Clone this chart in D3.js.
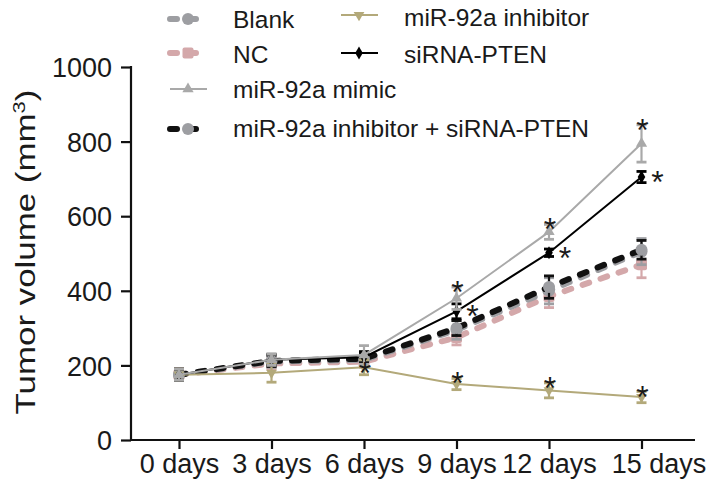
<!DOCTYPE html>
<html><head><meta charset="utf-8">
<script src="https://cdn.jsdelivr.net/npm/d3@7"></script>
<style>body{margin:0;background:#fff}svg{display:block}text{font-family:"Liberation Sans",Arial,sans-serif;fill:#1a1a1a}</style>
</head><body><svg id="c" width="709" height="490"></svg>
<script>
const days = ["0 days","3 days","6 days","9 days","12 days","15 days"];
const yTicks = [0,200,400,600,800,1000];
const blank = [175,210,215,295,400,505];
const blankErr = [15,15,15,25,35,35];
const nc = [175,205,210,275,385,470];
const ncErr = [15,15,15,20,30,35];
const mimic = [175,215,228,380,558,795];
const mimicErr = [15,15,25,30,20,50];
const inhibitor = [175,180,195,150,133,115];
const inhibitorErr = [15,25,20,15,20,15];
const sirna = [175,215,222,345,502,705];
const sirnaErr = [15,15,15,20,10,15];
const combo = [175,212,218,300,410,510];
const comboErr = [15,15,15,20,30,25];
const stars = [
  {s:"inhibitor",i:2},{s:"inhibitor",i:3},{s:"inhibitor",i:4},{s:"inhibitor",i:5},
  {s:"mimic",i:3},{s:"mimic",i:4},{s:"mimic",i:5},
  {s:"sirna",i:3},{s:"sirna",i:4},{s:"sirna",i:5}
];

const svg = d3.select("#c");
const x = d3.scalePoint().domain(days).range([179,641.5]);
const y = d3.scaleLinear().domain([0,1000]).range([440,67]);
const FONT = "Liberation Sans, Arial, sans-serif";

const series = [
  {key:"nc",name:"NC",v:nc,e:ncErr,color:"#d4a8aa",dash:"7,12",w:6,marker:"square"},
  {key:"blank",name:"Blank",v:blank,e:blankErr,color:"#9d9ea2",dash:"7,12",w:6,marker:"circle"},
  {key:"combo",name:"miR-92a inhibitor + siRNA-PTEN",v:combo,e:comboErr,color:"#111",dash:"7,12",w:6,marker:"circle2"},
  {key:"inhibitor",name:"miR-92a inhibitor",v:inhibitor,e:inhibitorErr,color:"#b3a97a",dash:null,w:2,marker:"tridown"},
  {key:"sirna",name:"siRNA-PTEN",v:sirna,e:sirnaErr,color:"#000",dash:null,w:2,marker:"diamond"},
  {key:"mimic",name:"miR-92a mimic",v:mimic,e:mimicErr,color:"#a9a9a9",dash:null,w:2,marker:"triangle"}
];
const byKey = Object.fromEntries(series.map(s=>[s.key,s]));

// axes
const yAxis = d3.axisLeft(y).tickValues(yTicks).tickFormat(d3.format("d")).tickSize(10).tickPadding(9);
const gy = svg.append("g").attr("transform","translate(131,0)").call(yAxis);
const xAxis = d3.axisBottom(x).tickSize(9).tickPadding(5);
const gx = svg.append("g").attr("transform","translate(0,440)").call(xAxis);
[gy,gx].forEach(g=>{
  g.select(".domain").remove();
  g.selectAll(".tick line").attr("stroke","#111").attr("stroke-width",2.2);
  g.selectAll(".tick text").style("font-size","27px").style("font-family",FONT).attr("fill","#1a1a1a");
});
gy.selectAll(".tick text").attr("dy","0.36em");
gx.selectAll(".tick text").filter(d=>d==="15 days").attr("dx",17);
svg.append("line").attr("x1",131).attr("x2",131).attr("y1",y(1000)-1.1).attr("y2",441).attr("stroke","#111").attr("stroke-width",2.2);
svg.append("line").attr("x1",130).attr("x2",695).attr("y1",440).attr("y2",440).attr("stroke","#111").attr("stroke-width",2.2);

// y title, stretched along its length to match the reference
const ytg = svg.append("g");
const yt = ytg.append("text").attr("text-anchor","middle").style("font-size","27px");
yt.append("tspan").text("Tumor volume (mm");
yt.append("tspan").text("3").attr("dy",-10).style("font-size","17px");
yt.append("tspan").text(")").attr("dy",10);
const bb = yt.node().getBBox();
const sx = 325/bb.width;
ytg.attr("transform",`translate(35,252) rotate(-90) scale(${sx},1)`);

const line = d3.line().x((d,i)=>x(days[i])).y(d=>y(d));

function marker(g,type,cx,cy,color){
  if(type==="circle"||type==="circle2") g.append("circle").attr("cx",cx).attr("cy",cy).attr("r",6).attr("fill",type==="circle2"?"#9d9ea2":color);
  else if(type==="square") g.append("rect").attr("x",cx-5.5).attr("y",cy-5.5).attr("width",11).attr("height",11).attr("rx",2).attr("fill",color);
  else if(type==="triangle") g.append("path").attr("d",d3.symbol(d3.symbolTriangle,55)()).attr("transform",`translate(${cx},${cy})`).attr("fill",color);
  else if(type==="tridown") g.append("path").attr("d",d3.symbol(d3.symbolTriangle,50)()).attr("transform",`translate(${cx},${cy}) rotate(180)`).attr("fill",color);
  else if(type==="diamond") g.append("path").attr("d",d3.symbol(d3.symbolDiamond,50)()).attr("transform",`translate(${cx},${cy})`).attr("fill",color);
}

series.forEach(s=>{
  const g = svg.append("g");
  s.v.forEach((v,i)=>{
    const cx = x(days[i]);
    const ec = s.key==="combo"?"#111":s.color;
    g.append("line").attr("x1",cx).attr("x2",cx).attr("y1",y(v+s.e[i])).attr("y2",y(v-s.e[i])).attr("stroke",ec).attr("stroke-width",2.2);
    [v+s.e[i],v-s.e[i]].forEach(e=>g.append("line").attr("x1",cx-5).attr("x2",cx+5).attr("y1",y(e)).attr("y2",y(e)).attr("stroke",ec).attr("stroke-width",2.8));
  });
  g.append("path").datum(s.v).attr("d",line).attr("fill","none").attr("stroke",s.color)
    .attr("stroke-width",s.w).attr("stroke-dasharray",s.dash).attr("stroke-linecap",s.dash?"round":"butt");
  s.v.forEach((v,i)=>marker(g,s.marker,x(days[i]),y(v),s.color));
});

// significance stars
stars.forEach(st=>{
  const s = byKey[st.s];
  const cx = x(days[st.i]), v = s.v[st.i];
  let tx, ty;
  if(st.s==="sirna"){ tx = cx+16; ty = y(v)+16; }
  else if(st.s==="inhibitor" && st.i===2){ tx = cx+1; ty = y(v)+17; }
  else { tx = cx+1; ty = y(v+s.e[st.i])+16; }
  svg.append("text").attr("x",tx).attr("y",ty).attr("text-anchor","middle").style("font-size","32px").text("*");
});

// legend
const legend = [
  {k:"blank",x:167,y:19,ty:28},{k:"nc",x:167,y:53,ty:63},{k:"mimic",x:167,y:89,ty:98},{k:"combo",x:167,y:129,ty:137},
  {k:"inhibitor",x:338,y:15,ty:26},{k:"sirna",x:338,y:53,ty:63}
];
legend.forEach(l=>{
  const s = byKey[l.k];
  const g = svg.append("g");
  g.append("line").attr("x1",l.x+3).attr("x2",l.x+40).attr("y1",l.y).attr("y2",l.y).attr("stroke",s.color)
    .attr("stroke-width",s.w).attr("stroke-dasharray",s.dash).attr("stroke-linecap",s.dash?"round":"butt");
  marker(g,s.marker,l.x+21,l.y,s.color);
  g.append("text").attr("x",l.k==="inhibitor"||l.k==="sirna"?404:233).attr("y",l.ty).style("font-size","24.5px").text(s.name);
});
</script></body></html>
